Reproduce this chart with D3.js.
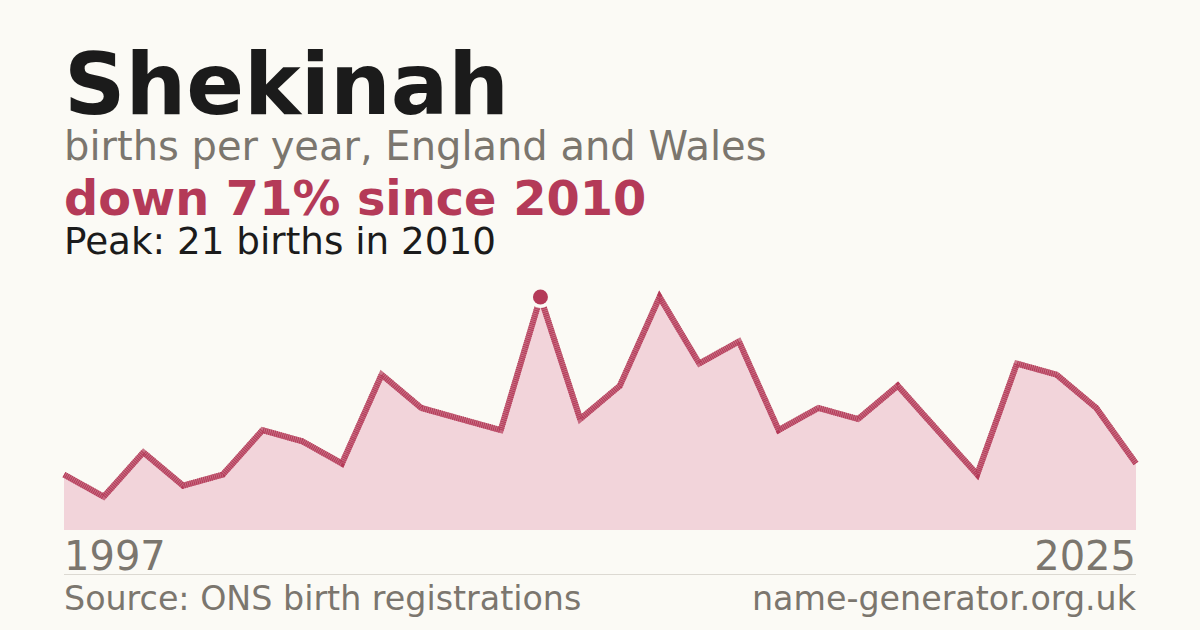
<!DOCTYPE html>
<html>
<head>
<meta charset="utf-8">
<script src="https://cdn.jsdelivr.net/npm/d3@7"></script>
<style>
  html, body { margin: 0; padding: 0; background: #fbfaf5; }
  svg { display: block; font-family: "DejaVu Sans", sans-serif; }
</style>
</head>
<body>
<div id="chart"></div>
<script>
// one year has no published count, so the series has 28 points
const years = [1997, 1998, 1999, 2000, 2001, 2002, 2004, 2005, 2006, 2007, 2008, 2009, 2010,
  2011, 2012, 2013, 2014, 2015, 2016, 2017, 2018, 2019, 2020, 2021, 2022, 2023, 2024, 2025];
const births = [5, 3, 7, 4, 5, 9, 8, 6, 14, 11, 10, 9, 21,
  10, 13, 21, 15, 17, 9, 11, 10, 13, 9, 5, 15, 14, 11, 6];
const endLabels = ["1997", "2025"];

const width = 1200;
const height = 630;
const left = 64, right = 1136;
const crimson = "#b43a58";
const grey = "#7b766e";

const svg = d3.select("#chart")
  .append("svg")
  .attr("width", width)
  .attr("height", height);

svg.append("rect").attr("width", width).attr("height", height).attr("fill", "#fbfaf5");

const data = years.map((y, i) => ({ year: y, value: births[i] }));
const peak = data.reduce((a, b) => (b.value > a.value ? b : a));
const last = data[data.length - 1];
const drop = Math.round((1 - last.value / peak.value) * 100);

// headings
svg.append("text").attr("x", left).attr("y", 114)
  .attr("font-size", 85.3).attr("font-weight", "bold").attr("fill", "#1b1b1b")
  .text("Shekinah");
svg.append("text").attr("x", left).attr("y", 160)
  .attr("font-size", 40).attr("fill", grey)
  .text("births per year, England and Wales");
svg.append("text").attr("x", left).attr("y", 215)
  .attr("font-size", 47.8).attr("font-weight", "bold").attr("fill", crimson)
  .text("down " + drop + "% since " + peak.year);
svg.append("text").attr("x", left).attr("y", 254)
  .attr("font-size", 37.3).attr("fill", "#1b1b1b")
  .text("Peak: " + peak.value + " births in " + peak.year);

// scales
const x = d3.scalePoint().domain(years).range([left, right]);
const y = d3.scaleLinear().domain([0, peak.value]).range([530, 297]);

const area = d3.area()
  .x(d => x(d.year))
  .y0(y(0))
  .y1(d => y(d.value));

const line = d3.line()
  .x(d => x(d.year))
  .y(d => y(d.value));

svg.append("path")
  .datum(data)
  .attr("d", area)
  .attr("fill", "#f2d4da");

svg.append("path")
  .datum(data)
  .attr("d", line)
  .attr("fill", "none")
  .attr("stroke", crimson)
  .attr("stroke-opacity", 0.7)
  .attr("stroke-width", 6)
  .attr("stroke-linejoin", "miter");

svg.append("path")
  .datum(data)
  .attr("d", line)
  .attr("fill", "none")
  .attr("stroke", crimson)
  .attr("stroke-width", 6)
  .attr("stroke-dasharray", "1 1")
  .attr("stroke-linejoin", "miter");

// peak marker
svg.append("circle")
  .attr("cx", x(peak.year)).attr("cy", y(peak.value))
  .attr("r", 11).attr("fill", "#fbfaf5");
svg.append("circle")
  .attr("cx", x(peak.year)).attr("cy", y(peak.value))
  .attr("r", 7.5).attr("fill", crimson);

// end year labels
svg.append("text").attr("x", left).attr("y", 570)
  .attr("font-size", 40).attr("fill", grey)
  .text(endLabels[0]);
svg.append("text").attr("x", right).attr("y", 570)
  .attr("font-size", 40).attr("fill", grey).attr("text-anchor", "end")
  .text(endLabels[1]);

svg.append("line")
  .attr("x1", left).attr("x2", right)
  .attr("y1", 574.5).attr("y2", 574.5)
  .attr("stroke", "#dcd9d2").attr("stroke-width", 1);

// footer
svg.append("text").attr("x", left).attr("y", 610)
  .attr("font-size", 33.3).attr("fill", grey)
  .text("Source: ONS birth registrations");
svg.append("text").attr("x", right).attr("y", 610)
  .attr("font-size", 33.3).attr("fill", grey).attr("text-anchor", "end")
  .text("name-generator.org.uk");
</script>
</body>
</html>
